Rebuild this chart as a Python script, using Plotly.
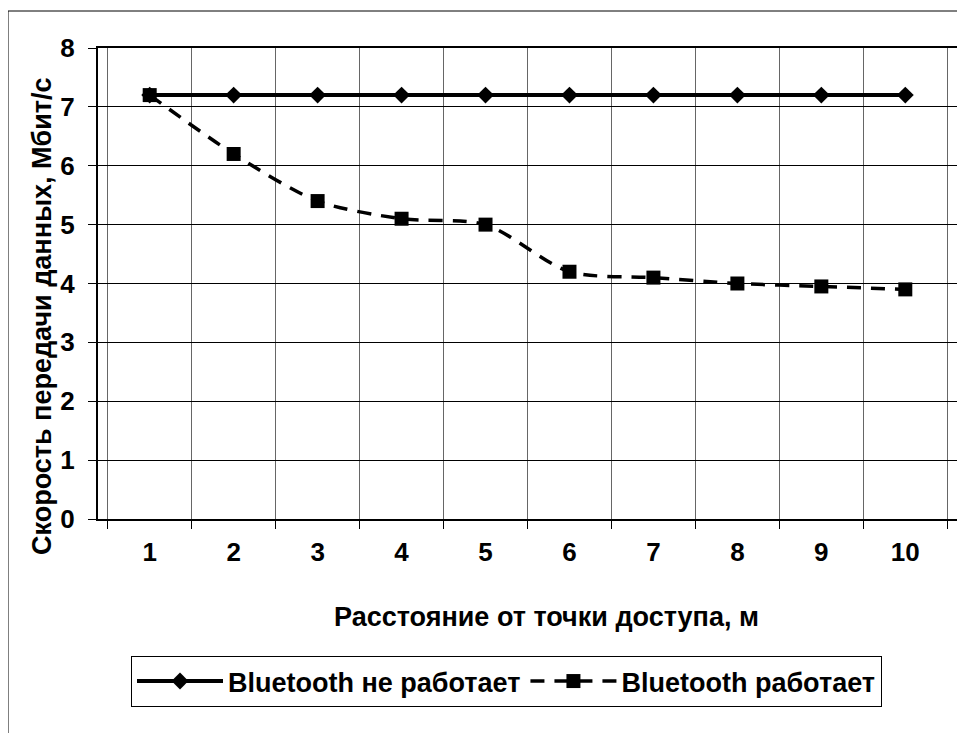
import plotly.graph_objects as go

categories = ["1", "2", "3", "4", "5", "6", "7", "8", "9", "10"]
bt_off = [7.2, 7.2, 7.2, 7.2, 7.2, 7.2, 7.2, 7.2, 7.2, 7.2]
bt_on = [7.2, 6.2, 5.4, 5.1, 5.0, 4.2, 4.1, 4.0, 3.95, 3.9]
name_off = "Bluetooth не работает"
name_on = "Bluetooth работает"
x_title = "Расстояние от точки доступа, м"
y_title = "Скорость передачи данных, Мбит/с"
y_ticks = [0, 1, 2, 3, 4, 5, 6, 7, 8]

FONT = "Liberation Sans"
OFF = 8  # page body margin
W, H = 965 - OFF, 733 - OFF
L, R, T, B = 98 - OFF, 8, 48 - OFF, 214
pw = W - L - R
ph = H - T - B

def px_x(v):
    return (v - OFF - L) / pw

def px_y(v):
    return (H - B - (v - OFF)) / ph

fig = go.Figure()
fig.add_trace(go.Scatter(
    x=categories, y=bt_off, name=name_off, mode="lines+markers",
    line=dict(color="black", width=4),
    marker=dict(symbol="diamond", size=13, color="black"),
))
fig.add_trace(go.Scatter(
    x=categories, y=bt_on, name=name_on, mode="lines+markers",
    line=dict(color="black", width=3.5, dash="14px,10px", shape="spline", smoothing=0.8),
    marker=dict(symbol="square", size=14, color="black"),
))

fig.update_layout(
    width=W, height=H,
    margin=dict(l=L, r=R, t=T, b=B, autoexpand=False),
    paper_bgcolor="white", plot_bgcolor="white",
    font=dict(family=FONT, color="black", size=26),
    showlegend=True,
    legend=dict(
        orientation="h", x=px_x(131), y=px_y(656), xanchor="left", yanchor="top",
        bordercolor="black", borderwidth=1, bgcolor="white",
        font=dict(family=FONT, size=27, weight="bold"),
        itemwidth=86, entrywidth=0, tracegroupgap=0,
    ),
    xaxis=dict(
        type="category", tickson="boundaries",
        showline=True, linecolor="black", linewidth=2, mirror=True,
        ticks="outside", ticklen=8, tickcolor="black", tickwidth=1,
        showgrid=True, gridcolor="#666666", gridwidth=1,
        tickfont=dict(family=FONT, size=26, weight="bold"),
        ticklabelstandoff=9,
        zeroline=False, fixedrange=True,
    ),
    yaxis=dict(
        range=[0, 8], tickvals=y_ticks,
        showline=True, linecolor="black", linewidth=2, mirror=True,
        ticks="outside", ticklen=8, tickcolor="black", tickwidth=1,
        showgrid=True, gridcolor="black", gridwidth=1,
        tickfont=dict(family=FONT, size=26, weight="bold"),
        ticklabelstandoff=8,
        zeroline=False, fixedrange=True,
    ),
    annotations=[
        dict(
            text=y_title, textangle=-90, xref="paper", yref="paper",
            x=px_x(42), y=px_y(316), xanchor="center", yanchor="middle",
            showarrow=False, font=dict(family=FONT, size=27, weight="bold"),
        ),
        dict(
            text=x_title, xref="paper", yref="paper",
            x=px_x(546), y=px_y(617), xanchor="center", yanchor="middle",
            showarrow=False, font=dict(family=FONT, size=27, weight="bold"),
        ),
    ],
    shapes=[dict(
        type="rect", xref="paper", yref="paper",
        x0=px_x(8), x1=px_x(975), y0=px_y(745), y1=px_y(11),
        line=dict(color="black", width=1), layer="below",
    )],
)

fig.write_html("out.html")
